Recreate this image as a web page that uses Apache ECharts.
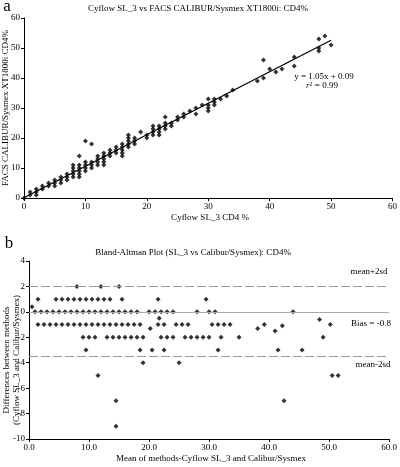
<!DOCTYPE html>
<html>
<head>
<meta charset="utf-8">
<script src="https://cdn.jsdelivr.net/npm/echarts@6/dist/echarts.min.js"></script>
<style>
html,body{margin:0;padding:0;background:#fff;}
#c{width:400px;height:467px;}
</style>
</head>
<body>
<div id="c"></div>
<script>
// ---------- Panel a: Cyflow vs FACS ----------
const titleA = 'Cyflow SL_3 vs FACS CALIBUR/Sysmex XT1800i: CD4%';
const xNameA = 'Cyflow SL_3 CD4 %';
const yNameA = 'FACS CALIBUR/Sysmex XT1800i CD4%';
const cyflowX = [0,1,1,2,2,2,3,3,4,4,5,5,5,6,6,6,7,7,7,8,8,8,8,8,9,9,9,9,9,9,10,10,10,10,10,11,11,11,11,12,12,12,12,13,13,13,13,13,14,14,14,15,15,15,16,16,16,16,16,17,17,17,17,17,18,18,18,19,20,20,21,21,21,21,22,22,22,22,23,23,23,23,24,24,25,25,26,26,27,28,28,29,30,30,30,30,31,31,31,32,33,34,38,39,39,40,41,42,44,44,48,49,48,48,50];
const facsY  = [0,2,1,3,2,1,4,3,5,4,6,5,4,7,6,5,8,7,6,11,10,9,8,7,14,11,10,9,8,7,19,12,11,10,9,18,12,11,10,14,13,12,11,15,14,13,12,11,16,15,14,17,16,15,18,17,16,15,14,21,20,19,18,17,20,19,18,22,21,20,24,23,22,21,24,23,22,21,27,25,24,23,25,24,27,26,28,27,29,30,28,31,33,31,30,29,33,32,31,33,34,36,39,46,40,43,42,43,47,44,53,54,50,49,51];
const fitSlope = 1.05;
const fitIntercept = 0.09;
const fitRange = [0, 50];
const eqText = 'y = 1.05x + 0.09';
const r2Text = '= 0.99';

// ---------- Panel b: Bland-Altman ----------
const titleB = 'Bland-Altman Plot (SL_3 vs Calibur/Sysmex): CD4%';
const xNameB = 'Mean of methods-Cyflow SL_3 and Calibur/Sysmex';
const yNameB1 = 'Differences between methods';
const yNameB2 = '(Cyflow SL_3 and Calibur/Sysmex)';
const baMean = [8,12,15,
  1.5,4.5,5.5,6.5,7.5,8.5,9.5,10.5,11.5,12.5,13.5,15.5,21.5,29.5,
  0.5,
  1,2,3,4,5,6,7,8,9,10,11,12,13,14,15,16,17,18,20,21,22,23,24,28,30,31,44,
  21.7,
  1.5,2.5,3.5,4.5,5.5,6.5,7.5,8.5,9.5,10.5,11.5,12.5,13.5,14.5,15.5,16.5,17.5,18.5,20.2,21.5,22.5,24.5,25.5,26.5,30.5,31.5,32.5,33.5,38.1,39.2,41,42.2,48.4,50.2,
  9,10,11,13,14,15,16,17,18,19,22,23,24,26,27,28,29,30,32,35,49,
  9.5,18.5,20.5,22.5,31.5,41.5,45.5,
  19,25,
  11.5,50.5,51.5,
  14.5,42.5,
  14.5];
const baDiff = [2,2,2,
  1,1,1,1,1,1,1,1,1,1,1,1,1,1,
  0.4,
  0,0,0,0,0,0,0,0,0,0,0,0,0,0,0,0,0,0,0,0,0,0,0,0,0,0,0,
  -0.5,
  -1,-1,-1,-1,-1,-1,-1,-1,-1,-1,-1,-1,-1,-1,-1,-1,-1,-1,-1.3,-1,-1,-1,-1,-1,-1,-1,-1,-1,-1.3,-1,-1.5,-1.1,-0.6,-1,
  -2,-2,-2,-2,-2,-2,-2,-2,-2,-2,-2,-2,-2,-2,-2,-2,-2,-2,-2,-2,-2,
  -3,-3,-3,-3,-3,-3,-3,
  -4,-4,
  -5,-5,-5,
  -7,-7,
  -9];
const upperLimit = 2;
const zeroLine = 0;
const lowerLimit = -3.5;
const upperLabel = 'mean+2sd';
const biasLabel = 'Bias = -0.8';
const lowerLabel = 'mean-2sd';

// ---------- build ----------
const FONT = '"Liberation Serif", "DejaVu Serif", serif';
const scatterA = cyflowX.map((x, i) => [x, facsY[i]]);
const fitLine = fitRange.map(x => [x, fitSlope * x + fitIntercept]);
const scatterB = baMean.map((x, i) => [x, baDiff[i]]);

function axisCommon(extra) {
  return Object.assign({
    type: 'value',
    axisLine: { show: true, onZero: false, lineStyle: { color: '#000', width: 1 } },
    axisTick: { show: true, length: 3, lineStyle: { color: '#000' } },
    axisLabel: { color: '#000', fontFamily: FONT, fontSize: 9, margin: 4 },
    splitLine: { show: false }
  }, extra);
}

const txt = (text, x, y, opts) => Object.assign({
  type: 'text', x: x, y: y,
  style: Object.assign({ text: text, fill: '#000', font: '9px ' + FONT, textAlign: 'center', textVerticalAlign: 'middle' }, opts || {})
});

const chart = echarts.init(document.getElementById('c'), null, { renderer: 'canvas' });
chart.setOption({
  backgroundColor: '#fff',
  animation: false,
  grid: [
    { left: 24, right: 4, top: 18, bottom: 269 },
    { left: 29, right: 5, top: 261, bottom: 28 }
  ],
  xAxis: [
    axisCommon({ gridIndex: 0, min: 0, max: 60, interval: 10 }),
    axisCommon({ gridIndex: 1, min: 0, max: 60, interval: 10,
      axisLabel: { color: '#000', fontFamily: FONT, fontSize: 9, margin: 4, formatter: v => v.toFixed(1) } })
  ],
  yAxis: [
    axisCommon({ gridIndex: 0, min: 0, max: 60, interval: 10 }),
    axisCommon({ gridIndex: 1, min: -10, max: 4, interval: 2 })
  ],
  series: [
    { type: 'scatter', xAxisIndex: 0, yAxisIndex: 0, data: scatterA, symbol: 'diamond', symbolSize: 5,
      itemStyle: { color: '#000' }, z: 3 },
    { type: 'line', xAxisIndex: 0, yAxisIndex: 0, data: fitLine, showSymbol: false, symbol: 'none',
      lineStyle: { color: '#000', width: 1.3 }, z: 4 },
    { type: 'scatter', xAxisIndex: 1, yAxisIndex: 1, data: scatterB, symbol: 'diamond', symbolSize: 5,
      itemStyle: { color: '#000' }, z: 3,
      markLine: {
        silent: true, symbol: 'none', label: { show: false },
        data: [
          { yAxis: upperLimit, lineStyle: { color: '#999', type: [9, 3], width: 1 } },
          { yAxis: zeroLine, lineStyle: { color: '#aaa', type: 'solid', width: 1 } },
          { yAxis: lowerLimit, lineStyle: { color: '#999', type: [9, 3], width: 1 } }
        ]
      }
    }
  ],
  graphic: [
    txt('a', 7, 7, { font: '17px ' + FONT }),
    txt('b', 9, 244, { font: '17px ' + FONT }),
    txt(titleA, 198, 9),
    txt(titleB, 193, 253),
    txt(xNameA, 210, 218),
    txt(xNameB, 211, 459),
    txt(yNameA, 6, 108, {}, null),
    txt(eqText, 324, 77),
    {
      type: 'text', x: 322, y: 86,
      style: { text: '{i|r}{s|2} ' + r2Text, fill: '#000', font: '9px ' + FONT, textAlign: 'center', textVerticalAlign: 'middle',
        rich: { i: { fontStyle: 'italic', fontFamily: FONT, fontSize: 9 }, s: { fontFamily: FONT, fontSize: 6, verticalAlign: 'top', padding: [0,0,4,0] } } }
    },
    txt(upperLabel, 369, 272),
    txt(biasLabel, 371, 324),
    txt(lowerLabel, 373, 365)
  ].map(g => g).concat([
    { type: 'text', x: 6, y: 108, rotation: Math.PI / 2,
      style: { text: yNameA, fill: '#000', font: '9px ' + FONT, textAlign: 'center', textVerticalAlign: 'middle' } },
    { type: 'text', x: 7, y: 360, rotation: Math.PI / 2,
      style: { text: yNameB1, fill: '#000', font: '9px ' + FONT, textAlign: 'center', textVerticalAlign: 'middle' } },
    { type: 'text', x: 17, y: 360, rotation: Math.PI / 2,
      style: { text: yNameB2, fill: '#000', font: '9px ' + FONT, textAlign: 'center', textVerticalAlign: 'middle' } }
  ]).filter(g => !(g.style && g.style.text === yNameA && !g.rotation))
});
</script>
</body>
</html>
